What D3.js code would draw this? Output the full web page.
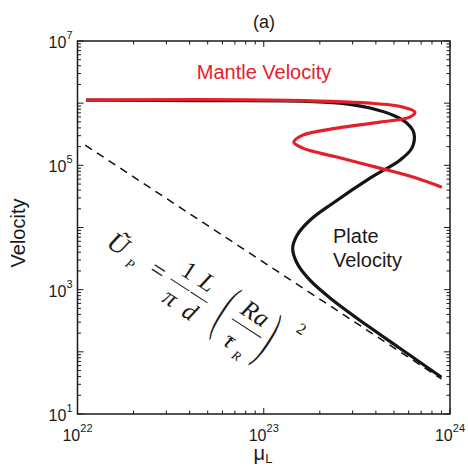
<!DOCTYPE html>
<html>
<head>
<meta charset="utf-8">
<script src="https://cdn.jsdelivr.net/npm/d3@7"></script>
<style>
	body { margin: 0; background: #fff; }
	text { font-family: "Liberation Sans", Arial, sans-serif; fill: #1a1a1a; }
	.eq text { font-family: "Liberation Serif", "DejaVu Serif", serif; }
</style>
</head>
<body>
<div id="graphic"></div>
<script>
// axis ranges and labelled exponents
const xDomain = [1e22, 1e24];
const yDomain = [1e1, 1e7];
const xTickExps = [22, 23, 24];
const yTickExps = [1, 3, 5, 7];

// plate velocity (black)
const plateMu = [1.11e22, 4.54e22, 1.56e23, 2.56e23, 3.72e23, 5.06e23, 5.94e23, 6.40e23, 6.24e23, 5.38e23,
	3.72e23, 2.35e23, 1.77e23, 1.51e23, 1.43e23, 1.51e23, 1.77e23, 2.35e23, 3.58e23, 5.38e23, 9.0e23];
const plateVel = [1.12e6, 1.10e6, 1.08e6, 1.00e6, 8.34e5, 6.20e5, 4.60e5, 3.30e5, 1.89e5, 1.21e5,
	6.22e4, 2.46e4, 1.31e4, 7.52e3, 4.64e3, 2.66e3, 1.42e3, 675, 267, 114, 39];

// mantle velocity (red)
const mantleMu = [1.11e22, 1.08e23, 3.72e23, 5.58e23, 6.48e23, 6.08e23, 4.20e23, 2.47e23, 1.62e23, 1.45e23,
	1.62e23, 2.47e23, 4.20e23, 6.64e23, 9.04e23];
const mantleVel = [1.12e6, 1.12e6, 1.0e6, 8.65e5, 7.19e5, 5.97e5, 4.96e5, 3.97e5, 3.06e5, 2.36e5,
	1.89e5, 1.36e5, 9.02e4, 6.22e4, 4.46e4];

// scaling law (dashed)
const asymMu = [1.1e22, 9.0e23];
const asymVel = [2.11e5, 36.6];

const width = 468, height = 470;
const margin = { top: 41, right: 18, bottom: 56, left: 77.5 };
const chart_width = width - margin.left - margin.right;
const chart_height = height - margin.top - margin.bottom;

const svg = d3.select('#graphic').append('svg')
	.attr('width', width).attr('height', height);

const x = d3.scaleLog().domain(xDomain).range([margin.left, margin.left + chart_width]);
const y = d3.scaleLog().domain(yDomain).range([margin.top + chart_height, margin.top]);

const isMajor = (d) => Math.abs(Math.log10(d) - Math.round(Math.log10(d))) < 1e-6;

// ticks, pointing inward on all four sides
const xt = x.ticks();
const yt = y.ticks();
const tickG = svg.append('g').attr('stroke', '#1a1a1a').attr('stroke-width', 1);
tickG.selectAll('.xb').data(xt).join('line')
	.attr('x1', (d) => x(d)).attr('x2', (d) => x(d))
	.attr('y1', y.range()[0]).attr('y2', (d) => y.range()[0] - (isMajor(d) ? 6 : 3.5));
tickG.selectAll('.xt').data(xt).join('line')
	.attr('x1', (d) => x(d)).attr('x2', (d) => x(d))
	.attr('y1', y.range()[1]).attr('y2', (d) => y.range()[1] + (isMajor(d) ? 6 : 3.5));
tickG.selectAll('.yl').data(yt).join('line')
	.attr('y1', (d) => y(d)).attr('y2', (d) => y(d))
	.attr('x1', x.range()[0]).attr('x2', (d) => x.range()[0] + (isMajor(d) ? 6 : 3.5));
tickG.selectAll('.yr').data(yt).join('line')
	.attr('y1', (d) => y(d)).attr('y2', (d) => y(d))
	.attr('x1', x.range()[1]).attr('x2', (d) => x.range()[1] - (isMajor(d) ? 6 : 3.5));

// frame
svg.append('rect')
	.attr('x', x.range()[0]).attr('y', y.range()[1])
	.attr('width', chart_width).attr('height', chart_height)
	.attr('fill', 'none').attr('stroke', '#1a1a1a').attr('stroke-width', 1.5);

// tick labels
const xl = svg.append('g').selectAll('text').data(xTickExps).join('text')
	.attr('x', (d) => x(Math.pow(10, d))).attr('y', y.range()[0] + 27)
	.attr('text-anchor', 'middle').style('font-size', '16px');
xl.append('tspan').text('10');
xl.append('tspan').attr('dy', -9).style('font-size', '11px').text((d) => d);

const yl = svg.append('g').selectAll('text').data(yTickExps).join('text')
	.attr('x', x.range()[0] - 5).attr('y', (d) => y(Math.pow(10, d)) + 7)
	.attr('text-anchor', 'end').style('font-size', '16px');
yl.append('tspan').text('10');
yl.append('tspan').attr('dy', -9).style('font-size', '11px').text((d) => d);

// curves
const line = d3.line().x((d) => x(d[0])).y((d) => y(d[1])).curve(d3.curveCatmullRom.alpha(0.5));

svg.append('path')
	.datum(asymMu.map((d, i) => [d, asymVel[i]]))
	.attr('d', d3.line().x((d) => x(d[0])).y((d) => y(d[1])))
	.attr('fill', 'none').attr('stroke', '#111').attr('stroke-width', 1.5)
	.attr('stroke-dasharray', '8,6');

svg.append('path')
	.datum(plateMu.map((d, i) => [d, plateVel[i]]))
	.attr('d', line)
	.attr('fill', 'none').attr('stroke', '#151515').attr('stroke-width', 3.2);

svg.append('path')
	.datum(mantleMu.map((d, i) => [d, mantleVel[i]]))
	.attr('d', line)
	.attr('fill', 'none').attr('stroke', '#e3202a').attr('stroke-width', 3.2);

// annotations
svg.append('text').attr('x', 264).attr('y', 28).attr('text-anchor', 'middle')
	.style('font-size', '18px').text('(a)');
svg.append('text').attr('x', 264).attr('y', 79).attr('text-anchor', 'middle')
	.style('font-size', '20px').style('fill', '#e3202a').text('Mantle Velocity');
svg.append('text').attr('x', 333).attr('y', 243).style('font-size', '20px').text('Plate');
svg.append('text').attr('x', 333).attr('y', 267).style('font-size', '20px').text('Velocity');

// axis titles
svg.append('text')
	.attr('transform', 'translate(25,233) rotate(-90)')
	.attr('text-anchor', 'middle').style('font-size', '20px').text('Velocity');
const xTitle = svg.append('text').attr('x', 263).attr('y', 460)
	.attr('text-anchor', 'middle').style('font-size', '20px');
xTitle.append('tspan').text('μ');
xTitle.append('tspan').attr('dy', 3).style('font-size', '13px').text('L');

// rotated scaling law
const eq = svg.append('g').attr('class', 'eq').attr('transform', 'rotate(33)');
const t = (xx, yy, s, str, italic) => eq.append('text')
	.attr('x', xx).attr('y', yy).attr('text-anchor', 'middle')
	.style('font-size', s + 'px').style('font-style', italic ? 'italic' : 'normal').text(str);
const bar = (x1, x2) => eq.append('line').attr('x1', x1).attr('x2', x2)
	.attr('y1', 141).attr('y2', 141).attr('stroke', '#1a1a1a').attr('stroke-width', 1);

t(232, 149, 27, 'Ũ', true);
t(253, 155, 13, 'P', true);
t(280, 149, 26, '=', false);
t(306, 132, 25, '1', false);
bar(295, 317);
t(305, 165, 25, 'π', true);
t(328, 132, 25, 'L', true);
bar(319, 339);
t(329, 166, 25, 'd', true);
eq.append('text').attr('transform', 'translate(358,141) scale(0.9,2.7)')
	.attr('y', 6).attr('text-anchor', 'middle').style('font-size', '25px').text('(');
t(385, 132, 25, 'Ra', true);
bar(368, 403);
t(378, 168, 25, 'τ', true);
t(379, 170, 18, '˜', false);
t(392, 174, 13, 'R', true);
eq.append('text').attr('transform', 'translate(410,141) scale(0.9,2.7)')
	.attr('y', 6).attr('text-anchor', 'middle').style('font-size', '25px').text(')');
t(432, 117, 16, '2', false);
</script>
</body>
</html>
